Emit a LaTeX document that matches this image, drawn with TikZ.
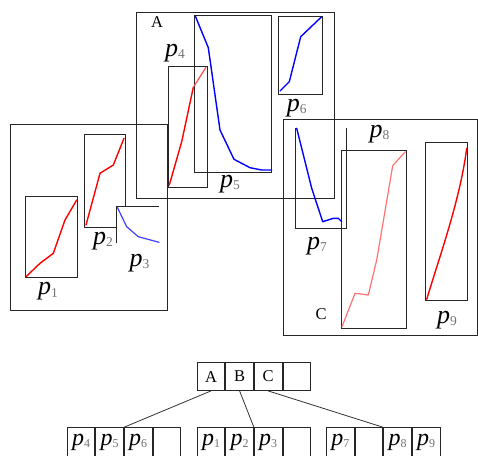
\documentclass[tikz,border=0pt]{standalone}
\usepackage{fontspec}
\setmainfont{Liberation Serif}
\newcommand\plab[1]{{\fontsize{26}{26}\selectfont\itshape p}\raisebox{-2.5pt}{\fontsize{13.5}{13.5}\selectfont\color{black!55}#1}}
\newcommand\preclab[1]{{\fontsize{24}{24}\selectfont\itshape p}\raisebox{-2pt}{\fontsize{12}{12}\selectfont\color{black!55}#1}}
\tikzset{
  frame/.style={draw=black!85, line width=0.9pt},
  curve/.style={line width=1.4pt, line join=round, line cap=round},
  lab/.style={inner sep=0pt, anchor=center},
  letter/.style={inner sep=0pt, font=\fontsize{16.5}{16.5}\selectfont},
  cell/.style={draw=black!85, line width=0.9pt, minimum width=27.7pt, minimum height=27.7pt, inner sep=0pt, anchor=north west},
  bcell/.style={cell, minimum height=29.5pt},
  link/.style={draw=black!80, line width=0.8pt}
}
\begin{document}
\begin{tikzpicture}[x=1pt,y=-1pt]
\useasboundingbox (0,0) rectangle (478,455);
\fill[white] (0,0) rectangle (478,455);
% big boxes
\draw[frame] (10.7,124) rectangle (167.7,310);
\draw[frame] (136.7,12.3) rectangle (334,198);
\draw[frame] (283.3,119.3) rectangle (477,335);
% page boxes
\draw[frame] (168.3,66) rectangle (207.3,187.7);
\draw[frame] (194.3,15) rectangle (271.7,172.3);
\draw[frame] (278.3,16) rectangle (322.7,94);
\draw[frame] (25.3,196) rectangle (77.3,277.7);
\draw[frame] (116.7,227.7) -- (84.7,227.7) -- (84.7,134.3) -- (125,134.3) -- (125,206.7);
\draw[frame] (116.7,243.3) -- (116.7,206.7) -- (159.3,206.7);
\draw[frame] (295.7,128.3) -- (295.7,228.3) -- (346.7,228.3) -- (346.7,128.3);
\draw[frame] (341.7,150.3) rectangle (406,328.3);
\draw[frame] (425,142) rectangle (467.7,300.7);
% curves
\draw[curve, blue] (195.3,16) -- (208.3,47.7) -- (220,130) -- (234,159.3) -- (250,167.7) -- (261.7,170) -- (271.7,170);
\draw[curve, blue] (280,91) -- (289.3,81.7) -- (300.7,36.7) -- (321.7,16.7);
\draw[curve, red] (169.3,185) -- (181.7,141.7) -- (193.3,87.3);
\draw[curve, red!70, line width=1.2pt] (193.3,87.3) -- (206,67.3);
\draw[curve, red] (26,276.7) -- (40,263.3) -- (53.3,253.3) -- (65,220) -- (76.7,200);
\draw[curve, red] (86,225) -- (100,173.3) -- (113.3,165) -- (124,138.3);
\draw[curve, blue!75, line width=1.2pt] (117.3,207.3) -- (126.7,226.7) -- (138.3,236.7) -- (159,242.3);
\draw[curve, blue] (296.7,128.3) -- (311.7,188.3) -- (322.7,221.7) -- (333.3,218.3) -- (338.3,218.3) -- (341.7,221.7);
\draw[curve, red!55, line width=1.2pt] (342,326.7) -- (355,293.3) -- (368.3,295) -- (376.7,260) -- (392.7,165.7) -- (405.3,151.7);
\draw[curve, red] (426.7,299.3) .. controls (440,255) and (460,200) .. (466.7,148.3);
% labels
\node[letter] (lA) at (157,22.5) {A};
\node[letter] (lC) at (321,314) {C};
\node[lab] (l1) at (48,291.5) {\plab{1}};
\node[lab] (l2) at (103,241) {\plab{2}};
\node[lab] (l3) at (139.5,263) {\plab{3}};
\node[lab] (l4) at (175,53) {\plab{4}};
\node[lab] (l5) at (230,184) {\plab{5}};
\node[lab] (l6) at (296.7,108) {\plab{6}};
\node[lab] (l7) at (317,246) {\plab{7}};
\node[lab] (l8) at (379.5,134) {\plab{8}};
\node[lab] (l9) at (447,320) {\plab{9}};
% root record
\node[cell] (ra) at (196.7,362.3) {\fontsize{16.5}{16.5}\selectfont A};
\node[cell] (rb) at (ra.north east) {\fontsize{16.5}{16.5}\selectfont B};
\node[cell] (rc) at (rb.north east) {\fontsize{16.5}{16.5}\selectfont C};
\node[cell] (rd) at (rc.north east) {};
% leaf records
\node[bcell] (a1) at (66.7,427.3) {\preclab{4}};
\node[bcell] (a2) at (a1.north east) {\preclab{5}};
\node[bcell] (a3) at (a2.north east) {\preclab{6}};
\node[bcell] (a4) at (a3.north east) {};
\node[bcell] (b1) at (196.7,427.3) {\preclab{1}};
\node[bcell] (b2) at (b1.north east) {\preclab{2}};
\node[bcell] (b3) at (b2.north east) {\preclab{3}};
\node[bcell] (b4) at (b3.north east) {};
\node[bcell] (c1) at (326,427.3) {\preclab{7}};
\node[bcell] (c2) at (c1.north east) {};
\node[bcell] (c3) at (c2.north east) {\preclab{8}};
\node[bcell] (c4) at (c3.north east) {\preclab{9}};
% links
\draw[link] (ra.south) -- (a3.north west);
\draw[link] (rb.south) -- (b3.north west);
\draw[link] (rc.south) -- (c3.north west);
\end{tikzpicture}
\end{document}
